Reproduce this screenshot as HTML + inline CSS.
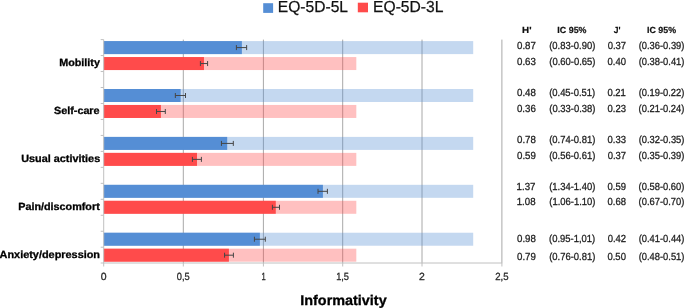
<!DOCTYPE html>
<html><head><meta charset="utf-8"><style>
html,body{margin:0;padding:0;background:#fff;overflow:hidden;}
svg{display:block;will-change:transform;}
text{font-family:"Liberation Sans",sans-serif;text-rendering:geometricPrecision;}
.leg{font-size:15.9px;fill:#111;stroke:#111;stroke-width:0.25px;}
.cat{font-size:10.4px;font-weight:bold;fill:#000;stroke:#000;stroke-width:0.3px;}
.title{font-size:14px;font-weight:bold;fill:#000;stroke:#000;stroke-width:0.3px;}
.tick{font-size:10.4px;fill:#2a2a2a;stroke:#2a2a2a;stroke-width:0.3px;}
.th{font-size:8.8px;font-weight:bold;fill:#111;stroke:#111;stroke-width:0.2px;}
.td{font-size:10.3px;fill:#1e1e1e;stroke:#1e1e1e;stroke-width:0.3px;}
</style></head><body>
<svg width="685" height="308" viewBox="0 0 685 308">
<line x1="183.3" y1="39.60" x2="183.3" y2="263.18" stroke="#A8A8A8" stroke-width="1"/>
<line x1="263.4" y1="39.60" x2="263.4" y2="263.18" stroke="#A8A8A8" stroke-width="1"/>
<line x1="342.7" y1="39.60" x2="342.7" y2="263.18" stroke="#A8A8A8" stroke-width="1"/>
<line x1="422.0" y1="39.60" x2="422.0" y2="263.18" stroke="#A8A8A8" stroke-width="1"/>
<line x1="501.9" y1="39.60" x2="501.9" y2="263.18" stroke="#A8A8A8" stroke-width="1"/>
<rect x="103.70" y="41.09" width="369.50" height="13" fill="#558ED5" fill-opacity="0.35"/>
<rect x="103.70" y="57.05" width="252.60" height="13" fill="#FF4B4B" fill-opacity="0.35"/>
<rect x="103.70" y="89.00" width="369.50" height="13" fill="#558ED5" fill-opacity="0.35"/>
<rect x="103.70" y="104.97" width="252.60" height="13" fill="#FF4B4B" fill-opacity="0.35"/>
<rect x="103.70" y="136.91" width="369.50" height="13" fill="#558ED5" fill-opacity="0.35"/>
<rect x="103.70" y="152.88" width="252.60" height="13" fill="#FF4B4B" fill-opacity="0.35"/>
<rect x="103.70" y="184.82" width="369.50" height="13" fill="#558ED5" fill-opacity="0.35"/>
<rect x="103.70" y="200.79" width="252.60" height="13" fill="#FF4B4B" fill-opacity="0.35"/>
<rect x="103.70" y="232.73" width="369.50" height="13" fill="#558ED5" fill-opacity="0.35"/>
<rect x="103.70" y="248.70" width="252.60" height="13" fill="#FF4B4B" fill-opacity="0.35"/>
<rect x="103.70" y="41.09" width="138.17" height="13" fill="#558ED5"/>
<rect x="103.70" y="57.05" width="100.27" height="13" fill="#FF4B4B"/>
<rect x="103.70" y="89.00" width="76.95" height="13" fill="#558ED5"/>
<rect x="103.70" y="104.97" width="57.20" height="13" fill="#FF4B4B"/>
<rect x="103.70" y="136.91" width="123.50" height="13" fill="#558ED5"/>
<rect x="103.70" y="152.88" width="93.30" height="13" fill="#FF4B4B"/>
<rect x="103.70" y="184.82" width="219.20" height="13" fill="#558ED5"/>
<rect x="103.70" y="200.79" width="172.07" height="13" fill="#FF4B4B"/>
<rect x="103.70" y="232.73" width="156.17" height="13" fill="#558ED5"/>
<rect x="103.70" y="248.70" width="125.20" height="13" fill="#FF4B4B"/>
<line x1="103.7" y1="39.60" x2="103.7" y2="263.0" stroke="#C0C0C0" stroke-width="1"/>
<line x1="100.7" y1="263.0" x2="501.9" y2="263.0" stroke="#C0C0C0" stroke-width="1"/>
<line x1="100.7" y1="39.60" x2="103.7" y2="39.60" stroke="#C0C0C0" stroke-width="1"/>
<line x1="100.7" y1="55.57" x2="103.7" y2="55.57" stroke="#C0C0C0" stroke-width="1"/>
<line x1="100.7" y1="71.54" x2="103.7" y2="71.54" stroke="#C0C0C0" stroke-width="1"/>
<line x1="100.7" y1="87.51" x2="103.7" y2="87.51" stroke="#C0C0C0" stroke-width="1"/>
<line x1="100.7" y1="103.48" x2="103.7" y2="103.48" stroke="#C0C0C0" stroke-width="1"/>
<line x1="100.7" y1="119.45" x2="103.7" y2="119.45" stroke="#C0C0C0" stroke-width="1"/>
<line x1="100.7" y1="135.42" x2="103.7" y2="135.42" stroke="#C0C0C0" stroke-width="1"/>
<line x1="100.7" y1="151.39" x2="103.7" y2="151.39" stroke="#C0C0C0" stroke-width="1"/>
<line x1="100.7" y1="167.36" x2="103.7" y2="167.36" stroke="#C0C0C0" stroke-width="1"/>
<line x1="100.7" y1="183.33" x2="103.7" y2="183.33" stroke="#C0C0C0" stroke-width="1"/>
<line x1="100.7" y1="199.30" x2="103.7" y2="199.30" stroke="#C0C0C0" stroke-width="1"/>
<line x1="100.7" y1="215.27" x2="103.7" y2="215.27" stroke="#C0C0C0" stroke-width="1"/>
<line x1="100.7" y1="231.24" x2="103.7" y2="231.24" stroke="#C0C0C0" stroke-width="1"/>
<line x1="100.7" y1="247.21" x2="103.7" y2="247.21" stroke="#C0C0C0" stroke-width="1"/>
<line x1="103.7" y1="263.0" x2="103.7" y2="266.5" stroke="#C0C0C0" stroke-width="1"/>
<line x1="183.3" y1="263.0" x2="183.3" y2="266.5" stroke="#C0C0C0" stroke-width="1"/>
<line x1="263.4" y1="263.0" x2="263.4" y2="266.5" stroke="#C0C0C0" stroke-width="1"/>
<line x1="342.7" y1="263.0" x2="342.7" y2="266.5" stroke="#C0C0C0" stroke-width="1"/>
<line x1="422.0" y1="263.0" x2="422.0" y2="266.5" stroke="#C0C0C0" stroke-width="1"/>
<line x1="501.9" y1="263.0" x2="501.9" y2="266.5" stroke="#C0C0C0" stroke-width="1"/>
<path d="M236.40 47.59H246.65M236.40 45.09V50.09M246.65 45.09V50.09" stroke="#464646" stroke-width="1.0" fill="none"/>
<path d="M200.40 63.55H207.60M200.40 61.05V66.06M207.60 61.05V66.06" stroke="#464646" stroke-width="1.0" fill="none"/>
<path d="M175.35 95.50H185.50M175.35 93.00V98.00M185.50 93.00V98.00" stroke="#464646" stroke-width="1.0" fill="none"/>
<path d="M156.50 111.47H165.30M156.50 108.97V113.97M165.30 108.97V113.97" stroke="#464646" stroke-width="1.0" fill="none"/>
<path d="M221.45 143.41H233.30M221.45 140.91V145.91M233.30 140.91V145.91" stroke="#464646" stroke-width="1.0" fill="none"/>
<path d="M192.40 159.38H201.40M192.40 156.88V161.88M201.40 156.88V161.88" stroke="#464646" stroke-width="1.0" fill="none"/>
<path d="M318.00 191.32H327.40M318.00 188.82V193.82M327.40 188.82V193.82" stroke="#464646" stroke-width="1.0" fill="none"/>
<path d="M272.40 207.29H279.50M272.40 204.79V209.79M279.50 204.79V209.79" stroke="#464646" stroke-width="1.0" fill="none"/>
<path d="M254.40 239.23H265.30M254.40 236.73V241.73M265.30 236.73V241.73" stroke="#464646" stroke-width="1.0" fill="none"/>
<path d="M224.57 255.20H233.40M224.57 252.70V257.70M233.40 252.70V257.70" stroke="#464646" stroke-width="1.0" fill="none"/>
<rect x="263.2" y="3.2" width="9.9" height="9.7" fill="#558ED5"/>
<rect x="357.8" y="2.7" width="10.2" height="9.6" fill="#FF4B4B"/>
<text x="277.79" y="12.00" class="leg" textLength="70.22" lengthAdjust="spacingAndGlyphs">EQ-5D-5L</text>
<text x="373.06" y="12.00" class="leg" textLength="70.39" lengthAdjust="spacingAndGlyphs">EQ-5D-3L</text>
<text x="59.17" y="66.00" class="cat" textLength="40.74" lengthAdjust="spacingAndGlyphs">Mobility</text>
<text x="54.06" y="114.00" class="cat" textLength="45.52" lengthAdjust="spacingAndGlyphs">Self-care</text>
<text x="21.24" y="162.00" class="cat" textLength="78.95" lengthAdjust="spacingAndGlyphs">Usual activities</text>
<text x="18.19" y="210.00" class="cat" textLength="81.57" lengthAdjust="spacingAndGlyphs">Pain/discomfort</text>
<text x="-0.40" y="258.00" class="cat" textLength="100.41" lengthAdjust="spacingAndGlyphs">Anxiety/depression</text>
<text x="300.25" y="305.00" class="title" textLength="86.40" lengthAdjust="spacingAndGlyphs">Informativity</text>
<text x="100.79" y="280.00" class="tick" textLength="5.81" lengthAdjust="spacingAndGlyphs">0</text>
<text x="176.81" y="280.00" class="tick" textLength="12.88" lengthAdjust="spacingAndGlyphs">0,5</text>
<text x="261.38" y="280.00" class="tick" textLength="4.20" lengthAdjust="spacingAndGlyphs">1</text>
<text x="336.13" y="280.00" class="tick" textLength="12.82" lengthAdjust="spacingAndGlyphs">1,5</text>
<text x="419.00" y="280.00" class="tick" textLength="5.79" lengthAdjust="spacingAndGlyphs">2</text>
<text x="495.26" y="280.00" class="tick" textLength="13.30" lengthAdjust="spacingAndGlyphs">2,5</text>
<text x="522.06" y="33.00" class="th" textLength="9.43" lengthAdjust="spacingAndGlyphs">H&#39;</text>
<text x="557.38" y="33.00" class="th" textLength="29.14" lengthAdjust="spacingAndGlyphs">IC 95%</text>
<text x="613.87" y="33.00" class="th" textLength="6.75" lengthAdjust="spacingAndGlyphs">J&#39;</text>
<text x="647.06" y="33.00" class="th" textLength="29.03" lengthAdjust="spacingAndGlyphs">IC 95%</text>
<text x="517.01" y="49.00" class="td" textLength="18.84" lengthAdjust="spacingAndGlyphs">0.87</text>
<text x="549.22" y="49.00" class="td" textLength="46.13" lengthAdjust="spacingAndGlyphs">(0.83-0.90)</text>
<text x="607.67" y="49.00" class="td" textLength="18.45" lengthAdjust="spacingAndGlyphs">0.37</text>
<text x="638.66" y="49.00" class="td" textLength="45.74" lengthAdjust="spacingAndGlyphs">(0.36-0.39)</text>
<text x="517.01" y="65.00" class="td" textLength="18.84" lengthAdjust="spacingAndGlyphs">0.63</text>
<text x="549.27" y="65.00" class="td" textLength="46.13" lengthAdjust="spacingAndGlyphs">(0.60-0.65)</text>
<text x="607.56" y="65.00" class="td" textLength="18.45" lengthAdjust="spacingAndGlyphs">0.40</text>
<text x="638.67" y="65.00" class="td" textLength="45.74" lengthAdjust="spacingAndGlyphs">(0.38-0.41)</text>
<text x="517.00" y="96.00" class="td" textLength="18.84" lengthAdjust="spacingAndGlyphs">0.48</text>
<text x="549.13" y="96.00" class="td" textLength="46.13" lengthAdjust="spacingAndGlyphs">(0.45-0.51)</text>
<text x="607.44" y="96.00" class="td" textLength="18.45" lengthAdjust="spacingAndGlyphs">0.21</text>
<text x="638.65" y="96.00" class="td" textLength="45.74" lengthAdjust="spacingAndGlyphs">(0.19-0.22)</text>
<text x="516.99" y="112.00" class="td" textLength="18.84" lengthAdjust="spacingAndGlyphs">0.36</text>
<text x="549.27" y="112.00" class="td" textLength="46.13" lengthAdjust="spacingAndGlyphs">(0.33-0.38)</text>
<text x="607.60" y="112.00" class="td" textLength="18.45" lengthAdjust="spacingAndGlyphs">0.23</text>
<text x="638.62" y="112.00" class="td" textLength="45.74" lengthAdjust="spacingAndGlyphs">(0.21-0.24)</text>
<text x="517.02" y="143.00" class="td" textLength="18.84" lengthAdjust="spacingAndGlyphs">0.78</text>
<text x="549.19" y="143.00" class="td" textLength="46.13" lengthAdjust="spacingAndGlyphs">(0.74-0.81)</text>
<text x="607.60" y="143.00" class="td" textLength="18.45" lengthAdjust="spacingAndGlyphs">0.33</text>
<text x="638.66" y="143.00" class="td" textLength="45.74" lengthAdjust="spacingAndGlyphs">(0.32-0.35)</text>
<text x="517.02" y="159.00" class="td" textLength="18.84" lengthAdjust="spacingAndGlyphs">0.59</text>
<text x="549.18" y="159.00" class="td" textLength="46.13" lengthAdjust="spacingAndGlyphs">(0.56-0.61)</text>
<text x="607.67" y="159.00" class="td" textLength="18.45" lengthAdjust="spacingAndGlyphs">0.37</text>
<text x="638.59" y="159.00" class="td" textLength="45.74" lengthAdjust="spacingAndGlyphs">(0.35-0.39)</text>
<text x="516.60" y="190.00" class="td" textLength="18.84" lengthAdjust="spacingAndGlyphs">1.37</text>
<text x="549.19" y="190.00" class="td" textLength="46.13" lengthAdjust="spacingAndGlyphs">(1.34-1.40)</text>
<text x="607.60" y="190.00" class="td" textLength="18.45" lengthAdjust="spacingAndGlyphs">0.59</text>
<text x="638.58" y="190.00" class="td" textLength="45.74" lengthAdjust="spacingAndGlyphs">(0.58-0.60)</text>
<text x="516.70" y="205.00" class="td" textLength="18.84" lengthAdjust="spacingAndGlyphs">1.08</text>
<text x="549.32" y="205.00" class="td" textLength="46.13" lengthAdjust="spacingAndGlyphs">(1.06-1.10)</text>
<text x="607.52" y="205.00" class="td" textLength="18.45" lengthAdjust="spacingAndGlyphs">0.68</text>
<text x="638.61" y="205.00" class="td" textLength="45.74" lengthAdjust="spacingAndGlyphs">(0.67-0.70)</text>
<text x="517.01" y="242.00" class="td" textLength="18.84" lengthAdjust="spacingAndGlyphs">0.98</text>
<text x="549.11" y="242.00" class="td" textLength="46.13" lengthAdjust="spacingAndGlyphs">(0.95-1,01)</text>
<text x="607.65" y="242.00" class="td" textLength="18.45" lengthAdjust="spacingAndGlyphs">0.42</text>
<text x="638.66" y="242.00" class="td" textLength="45.74" lengthAdjust="spacingAndGlyphs">(0.41-0.44)</text>
<text x="517.02" y="260.00" class="td" textLength="18.84" lengthAdjust="spacingAndGlyphs">0.79</text>
<text x="549.17" y="260.00" class="td" textLength="46.13" lengthAdjust="spacingAndGlyphs">(0.76-0.81)</text>
<text x="607.47" y="260.00" class="td" textLength="18.45" lengthAdjust="spacingAndGlyphs">0.50</text>
<text x="638.67" y="260.00" class="td" textLength="45.74" lengthAdjust="spacingAndGlyphs">(0.48-0.51)</text>
</svg>
</body></html>
